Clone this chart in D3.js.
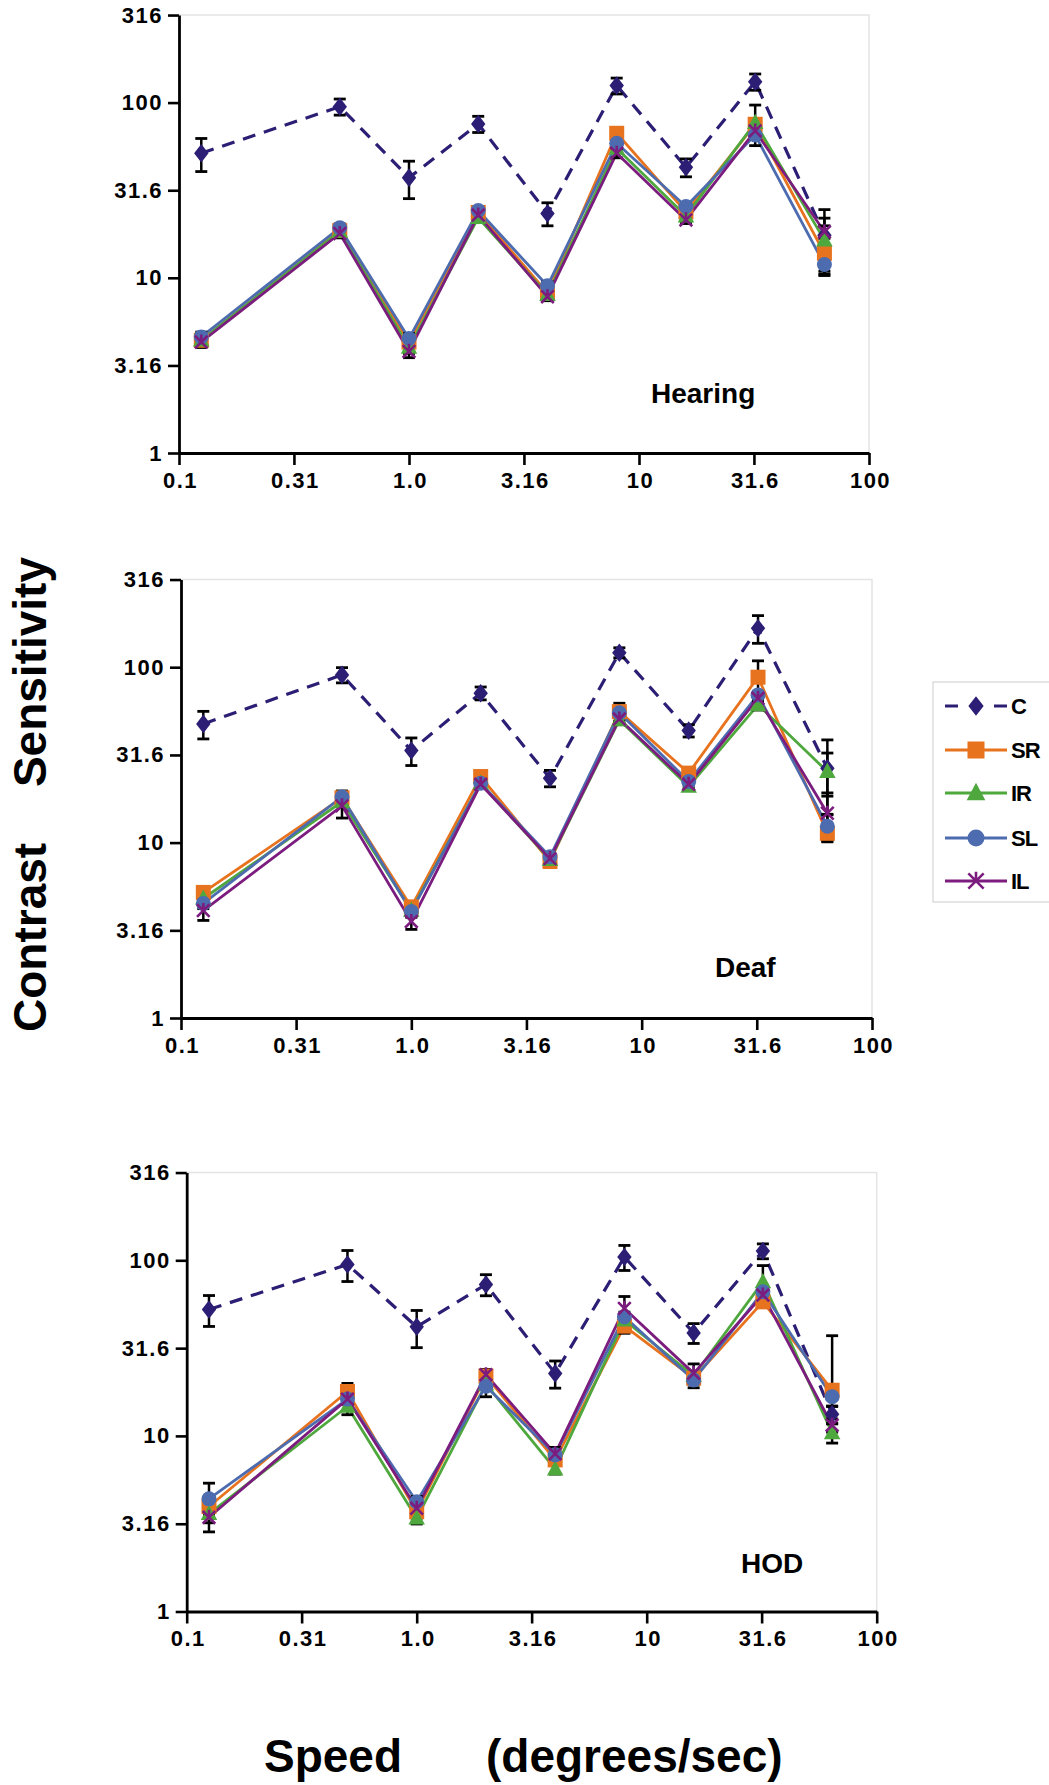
<!DOCTYPE html>
<html>
<head>
<meta charset="utf-8">
<script src="https://cdn.jsdelivr.net/npm/d3@7"></script>
<style>
  html, body { margin: 0; padding: 0; background: #fff; }
  svg { display: block; }
  text { font-family: "Liberation Sans", Arial, Helvetica, sans-serif; font-weight: bold; fill: #000; }
</style>
</head>
<body>
<script>
// ---------------- DATA ----------------
const speeds = [0.125, 0.5, 1, 2, 4, 8, 16, 32, 64];
const seriesNames = ["C", "SR", "IR", "SL", "IL"];
const panelNames = ["Hearing", "Deaf", "HOD"];
const xTickValues = [0.1, 0.316, 1, 3.16, 10, 31.6, 100];
const xTickLabels = ["0.1", "0.31", "1.0", "3.16", "10", "31.6", "100"];
const yTickValues = [1, 3.16, 10, 31.6, 100, 316];
const yTickLabels = ["1", "3.16", "10", "31.6", "100", "316"];

// Hearing
const hearingC    = [51.4, 94.8, 37.3, 75.5, 23.3, 125, 42.7, 131.6, 17.5];
const hearingCErr = [11, 10, 9, 8, 3.5, 13, 5, 14, 7];
const hearingSR    = [4.4, 18.6, 4.3, 23.6, 8.2, 66.8, 23.8, 75.2, 13.8];
const hearingSRErr = [0.3, 1, 0.3, 1.2, 0.4, 3, 1, 4, 1];
const hearingIR    = [4.4, 18.4, 4.0, 22.0, 8.0, 54.8, 22.5, 76.8, 16.4];
const hearingIRErr = [0.3, 1, 0.3, 1, 0.4, 3, 1, 20, 5.5];
const hearingSL    = [4.6, 19.3, 4.5, 24.2, 9.0, 58.6, 25.5, 65.3, 11.9];
const hearingSLErr = [0.3, 1, 0.3, 1, 0.5, 3, 1, 3, 1.6];
const hearingIL    = [4.3, 17.9, 3.8, 22.8, 7.8, 51.4, 21.4, 68.9, 18.3];
const hearingILErr = [0.3, 1, 0.3, 1, 0.4, 3, 1, 3, 1.5];

// Deaf
const deafC    = [47.5, 90.4, 33.5, 71.1, 23.3, 121, 43.5, 166.8, 26.5];
const deafCErr = [8.5, 9, 6, 6, 2.5, 8, 3.5, 30, 12];
const deafSR    = [5.2, 18.0, 4.3, 23.8, 7.8, 55.8, 24.9, 87.7, 11.3];
const deafSRErr = [0.4, 1, 0.3, 1, 0.4, 6.5, 1.2, 21, 1.2];
const deafIR    = [4.8, 17.1, 4.1, 21.8, 8.0, 50, 20.9, 61, 25.4];
const deafIRErr = [0.3, 1, 0.3, 1, 0.4, 3, 1, 4, 7];
const deafSL    = [4.5, 18.2, 4.05, 21.8, 8.3, 55, 22.3, 69.5, 12.4];
const deafSLErr = [0.3, 1.5, 0.3, 1, 0.4, 3, 1, 3, 2];
const deafIL    = [4.1, 16.2, 3.55, 21.5, 8.1, 50.6, 21.5, 66.5, 14.7];
const deafILErr = [0.5, 2.4, 0.35, 1, 0.4, 3, 1, 3, 4.5];

// HOD
const hodC    = [52.5, 94.7, 41.8, 72.8, 22.7, 104.5, 38.6, 113, 13.3];
const hodCErr = [10.5, 19, 10, 10, 4, 17, 5, 11, 1.5];
const hodSR    = [3.96, 17.9, 3.7, 21.9, 7.3, 42.2, 21.3, 58, 18.2];
const hodSRErr = [0.4, 2, 0.3, 2, 0.4, 3.8, 1, 4, 19];
const hodIR    = [3.6, 14.7, 3.4, 19.7, 6.46, 45.6, 22, 75.3, 10.4];
const hodIRErr = [0.4, 1.5, 0.25, 1, 0.4, 3, 1, 18, 1.3];
const hodSL    = [4.38, 16.2, 4.22, 19.2, 7.8, 47.7, 20.8, 66.1, 16.7];
const hodSLErr = [1.0, 1, 0.3, 2.5, 0.8, 3, 2, 3, 2];
const hodIL    = [3.44, 16.2, 3.87, 22.3, 7.9, 53.2, 22.7, 63.4, 11.5];
const hodILErr = [0.6, 1, 0.3, 1, 0.4, 9, 3, 3, 1];

const panelData = [
  { values: [hearingC, hearingSR, hearingIR, hearingSL, hearingIL],
    errors: [hearingCErr, hearingSRErr, hearingIRErr, hearingSLErr, hearingILErr] },
  { values: [deafC, deafSR, deafIR, deafSL, deafIL],
    errors: [deafCErr, deafSRErr, deafIRErr, deafSLErr, deafILErr] },
  { values: [hodC, hodSR, hodIR, hodSL, hodIL],
    errors: [hodCErr, hodSRErr, hodIRErr, hodSLErr, hodILErr] }
];

// ---------------- LAYOUT / STYLE ----------------
const W = 1049, H = 1785;
const colors = { C: "#2C1E74", SR: "#E8731E", IR: "#4FA83D", SL: "#4D6CAF", IL: "#7B1C7E" };
const layout = [
  { x0: 179, x1: 869, yTop: 15, yBot: 453, lx: 651, ly: 403 },
  { x0: 181, x1: 872, yTop: 579.5, yBot: 1018, lx: 715, ly: 977 },
  { x0: 186.7, x1: 876.7, yTop: 1172.5, yBot: 1611.5, lx: 741, ly: 1573 }
];

const svg = d3.select("body").append("svg").attr("width", W).attr("height", H);

function drawMarker(g, name, s) {
  const c = colors[name];
  if (name === "C") {
    g.append("path").attr("d", `M0,${-s * 0.58} L${s * 0.45},0 L0,${s * 0.58} L${-s * 0.45},0 Z`).attr("fill", c);
  } else if (name === "SR") {
    g.append("rect").attr("x", -s / 2).attr("y", -s / 2).attr("width", s).attr("height", s).attr("fill", c);
  } else if (name === "IR") {
    g.append("path").attr("d", `M0,${-s * 0.6} L${s * 0.55},${s * 0.42} L${-s * 0.55},${s * 0.42} Z`).attr("fill", c);
  } else if (name === "SL") {
    g.append("circle").attr("r", s / 2).attr("fill", c);
  } else if (name === "IL") {
    const a = s * 0.45;
    g.append("path")
      .attr("d", `M${-a},${-a} L${a},${a} M${-a},${a} L${a},${-a} M0,${-a * 1.2} L0,${a * 0.2}`)
      .attr("stroke", c).attr("stroke-width", 2.6).attr("fill", "none");
  }
}
const markerSize = { C: 16, SR: 15, IR: 15, SL: 15, IL: 14 };

panelData.forEach((pd, pi) => {
  const L = layout[pi];
  const x = d3.scaleLog().domain([0.1, 100]).range([L.x0, L.x1]);
  const y = d3.scaleLog().domain([1, 316.2]).range([L.yBot, L.yTop]);
  const g = svg.append("g");

  // frame (top & right light gray)
  g.append("path")
    .attr("d", `M${L.x0},${L.yTop} L${L.x1},${L.yTop} L${L.x1},${L.yBot}`)
    .attr("fill", "none").attr("stroke", "#e4e4e4").attr("stroke-width", 1.5);

  // axes
  const xAxis = d3.axisBottom(x).tickValues(xTickValues)
    .tickFormat((d, i) => xTickLabels[i]).tickSize(12).tickSizeOuter(0).tickPadding(7);
  const yAxis = d3.axisLeft(y).tickValues(yTickValues)
    .tickFormat((d, i) => yTickLabels[i]).tickSize(11).tickSizeOuter(0).tickPadding(5);

  const gx = g.append("g").attr("transform", `translate(0,${L.yBot})`).call(xAxis);
  const gy = g.append("g").attr("transform", `translate(${L.x0},0)`).call(yAxis);
  [gx, gy].forEach(ax => {
    ax.select(".domain").attr("stroke", "#000").attr("stroke-width", 2.8);
    ax.selectAll(".tick line").attr("stroke", "#000").attr("stroke-width", 2.6);
    ax.selectAll(".tick text")
      .style("font-family", '"Liberation Sans", Arial, sans-serif')
      .style("font-weight", "bold").style("font-size", "22px")
      .style("letter-spacing", "1.5px").attr("fill", "#000");
  });
  gx.selectAll(".tick text").attr("dx", "1px");

  const plot = g.append("g");
  const lineGen = d3.line().x((d) => x(d.s)).y((d) => y(d.v));

  // lines: C (dashed) first, then others
  seriesNames.forEach((name, si) => {
    const pts = speeds.map((s, i) => ({ s, v: pd.values[si][i] }));
    plot.append("path").datum(pts)
      .attr("d", lineGen)
      .attr("fill", "none")
      .attr("stroke", colors[name])
      .attr("stroke-width", name === "C" ? 3.2 : 2.8)
      .attr("stroke-dasharray", name === "C" ? "13,9" : null)
      .attr("stroke-linejoin", "round");
  });

  // error bars
  seriesNames.forEach((name, si) => {
    speeds.forEach((s, i) => {
      const v = pd.values[si][i], e = pd.errors[si][i];
      const cx = x(s);
      const yv = y(v), yu = y(v + e);
      plot.append("line").attr("x1", cx).attr("x2", cx).attr("y1", yv).attr("y2", yu)
        .attr("stroke", "#000").attr("stroke-width", 2.5);
      plot.append("line").attr("x1", cx - 6).attr("x2", cx + 6).attr("y1", yu).attr("y2", yu)
        .attr("stroke", "#000").attr("stroke-width", 2.8);
      if (v - e >= 1) {
        const yl = y(v - e);
        plot.append("line").attr("x1", cx).attr("x2", cx).attr("y1", yv).attr("y2", yl)
          .attr("stroke", "#000").attr("stroke-width", 2.5);
        plot.append("line").attr("x1", cx - 6).attr("x2", cx + 6).attr("y1", yl).attr("y2", yl)
          .attr("stroke", "#000").attr("stroke-width", 2.8);
      }
    });
  });

  // markers
  seriesNames.forEach((name, si) => {
    speeds.forEach((s, i) => {
      const mg = plot.append("g").attr("transform", `translate(${x(s)},${y(pd.values[si][i])})`);
      drawMarker(mg, name, markerSize[name]);
    });
  });

  // panel label
  g.append("text").attr("x", L.lx).attr("y", L.ly)
    .style("font-size", "28px").text(panelNames[pi]);
});

// legend
const leg = svg.append("g");
leg.append("rect").attr("x", 933).attr("y", 682).attr("width", 140).attr("height", 220)
  .attr("fill", "#fff").attr("stroke", "#d4d4d4").attr("stroke-width", 1.2);
const legY = [706, 750, 793, 838, 881];
seriesNames.forEach((name, i) => {
  const yy = legY[i];
  leg.append("line").attr("x1", 945).attr("x2", 1007).attr("y1", yy).attr("y2", yy)
    .attr("stroke", colors[name]).attr("stroke-width", name === "C" ? 3 : 2.8)
    .attr("stroke-dasharray", name === "C" ? "13,36,13" : null);
  const mg = leg.append("g").attr("transform", `translate(976,${yy})`);
  drawMarker(mg, name, name === "C" ? 17 : 17);
  leg.append("text").attr("x", 1011).attr("y", yy + 8)
    .style("font-size", "22px").style("letter-spacing", "-1px").text(name);
});

// axis titles
svg.append("text").attr("transform", "translate(46,557) rotate(-90)")
  .attr("text-anchor", "end").style("font-size", "46px").text("Sensitivity");
svg.append("text").attr("transform", "translate(46,1032) rotate(-90)")
  .attr("text-anchor", "start").style("font-size", "46px").text("Contrast");
svg.append("text").attr("x", 264).attr("y", 1772).style("font-size", "46px").text("Speed");
svg.append("text").attr("x", 486).attr("y", 1772).style("font-size", "46px").text("(degrees/sec)");
</script>
</body>
</html>
